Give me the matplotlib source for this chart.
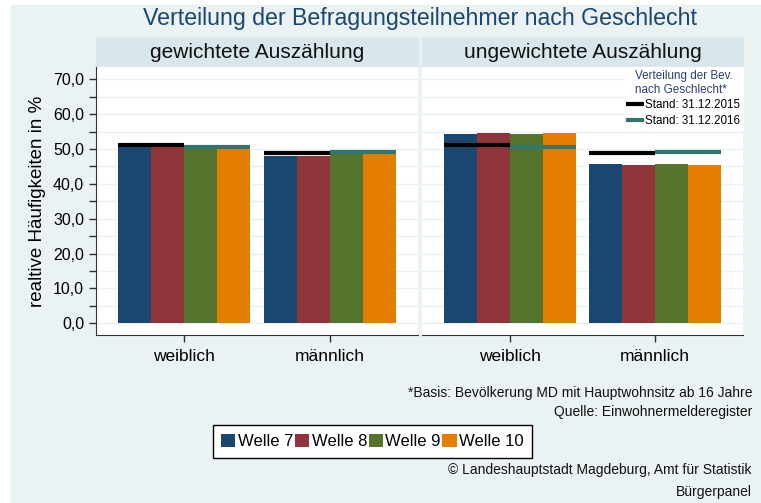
import matplotlib.pyplot as plt
import numpy as np
from matplotlib.lines import Line2D
from matplotlib.patches import Patch, Rectangle

plt.rcParams['font.family'] = ['Liberation Sans', 'DejaVu Sans']

CATEGORIES = ['weiblich', 'männlich']
WAVES = ['Welle 7', 'Welle 8', 'Welle 9', 'Welle 10']
PANELS = ['gewichtete Auszählung', 'ungewichtete Auszählung']

# shares in % per wave, [weiblich, männlich]
WEIGHTED = {
    'Welle 7': [50.5, 48.1],
    'Welle 8': [50.5, 48.1],
    'Welle 9': [50.1, 48.5],
    'Welle 10': [50.1, 48.5],
}
UNWEIGHTED = {
    'Welle 7': [54.3, 45.7],
    'Welle 8': [54.6, 45.4],
    'Welle 9': [54.3, 45.7],
    'Welle 10': [54.6, 45.4],
}
# population reference
POP_2015 = [51.0, 48.8]
POP_2016 = [50.7, 49.1]

COLORS = ['#1a476f', '#90353b', '#55752f', '#e37e00']
BG = '#eaf2f3'
STRIP = '#d9e6eb'
NAVY = '#1a476f'
TEAL = '#2f7670'

fig = plt.figure(figsize=(7.61, 5.03), dpi=100)
fig.patch.set_facecolor('white')
fig.patches.append(Rectangle((11 / 761, 0), 749 / 761, 498 / 503,
                             transform=fig.transFigure, color=BG, zorder=-10))

W, H = 761, 503
bottom, top = 335, 67
axes_px = [(96, 418), (422, 743)]
width = 0.905 / 4
x = np.arange(len(CATEGORIES))

for i, (panel, data) in enumerate(zip(PANELS, [WEIGHTED, UNWEIGHTED])):
    x0, x1 = axes_px[i]
    ax = fig.add_axes([x0 / W, 1 - bottom / H, (x1 - x0) / W, (bottom - top) / H])
    ax.set_facecolor('white')

    for j, wave in enumerate(WAVES):
        ax.bar(x + (j - 1.5) * width, data[wave], width, color=COLORS[j], zorder=2)

    for k in x:
        ax.plot([k - 2 * width, k], [POP_2015[k]] * 2, color='black', lw=3, zorder=3,
                solid_capstyle='butt')
        ax.plot([k, k + 2 * width], [POP_2016[k]] * 2, color=TEAL, lw=3, zorder=3,
                solid_capstyle='butt')

    ax.set_xlim(-0.603, 1.604)
    ax.set_ylim(-3.35, 73.5)
    ax.set_yticks(np.arange(0, 71, 10))
    ax.set_yticks(np.arange(5, 70, 10), minor=True)
    for yv in np.arange(0, 71, 5):
        ax.axhline(yv, color=BG, lw=1, zorder=1)
    ax.set_xticks(x)
    ax.set_xticklabels(CATEGORIES, fontsize=12.5)
    ax.tick_params(axis='x', length=5, width=1, color='#333333', pad=5)

    for side in ['top', 'right']:
        ax.spines[side].set_visible(False)
    ax.spines['bottom'].set_color('#333333')

    if i == 0:
        ax.set_yticklabels([f'{v},0' for v in range(0, 71, 10)], fontsize=11.5)
        ax.tick_params(axis='y', which='both', length=5, width=1, color='#333333')
        ax.spines['left'].set_color('#333333')
        ax.set_ylabel('realtive Häufigkeiten in %', fontsize=13.5, labelpad=5)
    else:
        ax.spines['left'].set_visible(False)
        ax.tick_params(axis='y', which='both', left=False, labelleft=False)
        handles = [Line2D([], [], color='black', lw=3),
                   Line2D([], [], color=TEAL, lw=3)]
        leg = ax.legend(handles, ['Stand: 31.12.2015', 'Stand: 31.12.2016'],
                        title='Verteilung der Bev.\nnach Geschlecht*',
                        loc='upper right', bbox_to_anchor=(1.0, 1.0), fontsize=8.4,
                        title_fontsize=8.4, frameon=True, fancybox=False,
                        edgecolor='white', framealpha=1, handlelength=1.2,
                        handletextpad=0.3, borderpad=0.25, labelspacing=0.3,
                        borderaxespad=0)
        leg.get_title().set_color('#2b3f72')
        leg.set_zorder(5)

    # panel strip
    fig.patches.append(Rectangle((x0 / W, 1 - 67 / H), (x1 - x0) / W, 29 / H,
                                 transform=fig.transFigure, color=STRIP, zorder=-5))
    fig.text((x0 + x1) / 2 / W, 1 - 52.5 / H, panel, ha='center', va='center',
             fontsize=15, color='#111111')

fig.text(420 / W, 1 - 18 / H, 'Verteilung der Befragungsteilnehmer nach Geschlecht',
         ha='center', va='center', fontsize=16.7, color=NAVY)

fig.text(752 / W, 1 - 393 / H, '*Basis: Bevölkerung MD mit Hauptwohnsitz ab 16 Jahre',
         ha='right', va='center', fontsize=10, color='#111111')
fig.text(752 / W, 1 - 412 / H, 'Quelle: Einwohnermelderegister',
         ha='right', va='center', fontsize=10, color='#111111')
fig.text(752 / W, 1 - 470 / H, '© Landeshauptstadt Magdeburg, Amt für Statistik',
         ha='right', va='center', fontsize=10, color='#111111')
fig.text(752 / W, 1 - 492 / H, 'Bürgerpanel',
         ha='right', va='center', fontsize=10, color='#111111')

patches = [Patch(facecolor=c, edgecolor='none') for c in COLORS]
leg = fig.legend(patches, WAVES, loc='center', ncol=4,
                 bbox_to_anchor=(372.5 / W, 1 - 441.5 / H), fontsize=12,
                 frameon=True, fancybox=False, edgecolor='black', framealpha=1,
                 handlelength=0.85, handleheight=0.85, handletextpad=0.15,
                 columnspacing=0.1, borderpad=0.5, borderaxespad=0)
leg.get_frame().set_linewidth(1)

fig.savefig('out.png', dpi=100, facecolor=fig.get_facecolor())
